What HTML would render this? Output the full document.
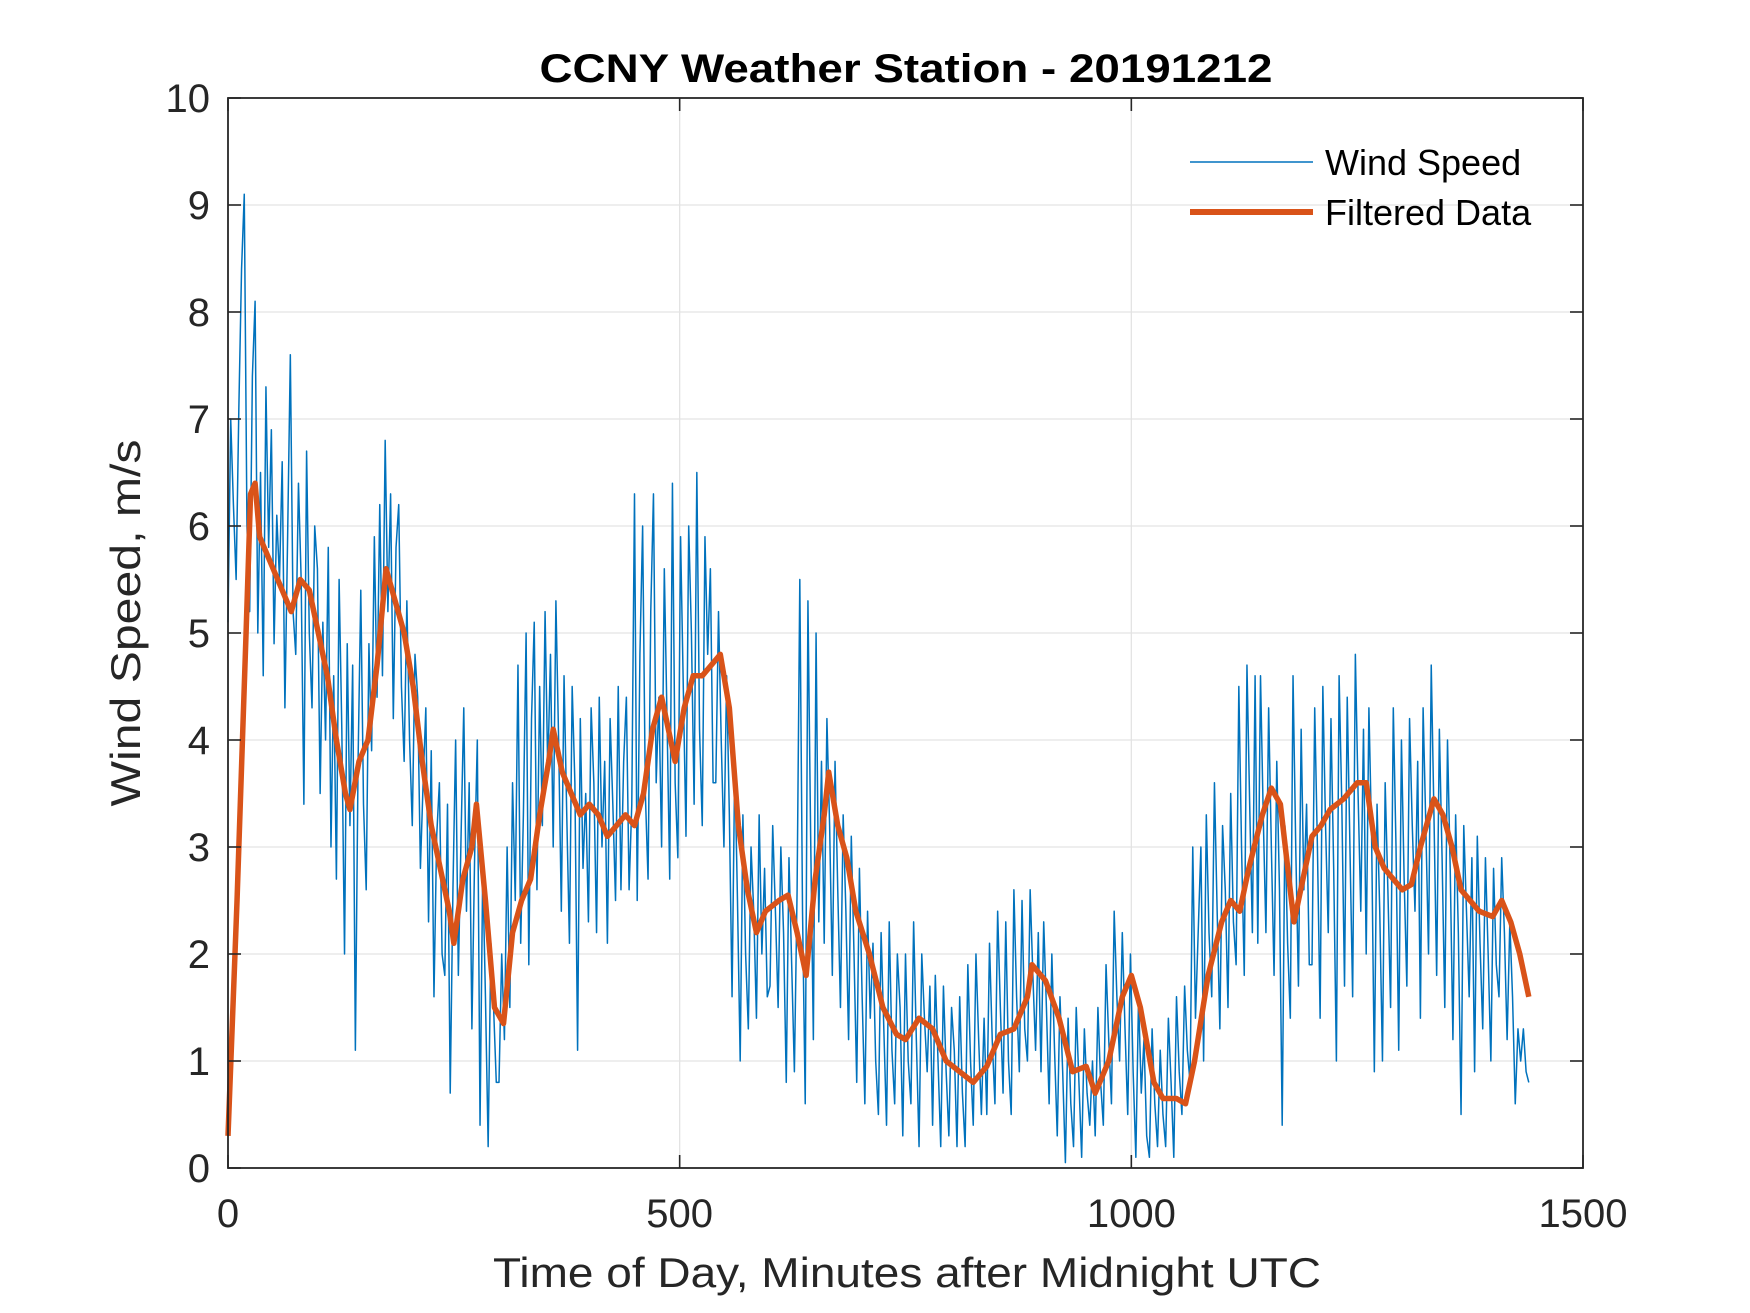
<!DOCTYPE html>
<html><head><meta charset="utf-8"><style>html,body{margin:0;padding:0;background:#fff}svg{display:block}text{font-family:"Liberation Sans",Arial,sans-serif}</style></head>
<body>
<svg id="chart" width="1750" height="1313" viewBox="0 0 1750 1313" xmlns="http://www.w3.org/2000/svg">
<rect width="1750" height="1313" fill="#fff"/>
<g id="grid"></g>
<g id="series"></g>
<g id="axes"></g>
<text x="906" y="82" text-anchor="middle" font-size="40" font-weight="bold" fill="#000" textLength="733" lengthAdjust="spacingAndGlyphs">CCNY Weather Station - 20191212</text>
<text x="907" y="1287" text-anchor="middle" font-size="42" fill="#262626" textLength="828" lengthAdjust="spacingAndGlyphs">Time of Day, Minutes after Midnight UTC</text>
<text transform="translate(140,623) rotate(-90)" text-anchor="middle" font-size="42" fill="#262626" textLength="367" lengthAdjust="spacingAndGlyphs">Wind Speed, m/s</text>
<g>
<line x1="1190" y1="162" x2="1313" y2="162" stroke="#0072BD" stroke-width="1.6"/>
<text x="1325" y="175" font-size="36" fill="#000">Wind Speed</text>
<line x1="1190" y1="212" x2="1313" y2="212" stroke="#D95319" stroke-width="6"/>
<text x="1325" y="225" font-size="36" fill="#000">Filtered Data</text>
</g>
</svg>
<script>
const windStep = 3;
const windSpeed = [
5.1,7.0,6.2,5.5,7.1,8.4,9.1,6.0,5.2,7.4,8.1,5.0,6.5,4.6,7.3,5.8,6.9,4.9,6.1,5.5,
6.6,4.3,5.9,7.6,5.2,4.8,6.4,5.5,3.4,6.7,5.0,4.3,6.0,5.6,3.5,5.1,4.0,5.8,3.0,4.6,
2.7,5.5,4.1,2.0,4.9,3.2,4.7,1.1,3.8,5.4,3.4,2.6,4.9,3.9,5.9,4.4,6.2,4.6,6.8,5.2,
6.3,4.2,5.8,6.2,4.5,3.8,5.3,4.0,3.2,4.8,4.4,2.8,3.6,4.3,2.3,3.9,1.6,3.1,3.6,2.0,
1.8,3.4,0.7,2.6,4.0,1.8,3.1,4.3,2.4,3.6,1.3,2.9,4.0,0.4,2.8,1.6,0.2,2.1,1.5,0.8,
0.8,2.0,1.2,3.0,1.5,3.6,2.5,4.7,2.1,3.3,5.0,1.9,4.2,5.1,2.6,4.5,3.2,5.2,3.7,4.8,
3.0,5.3,4.0,2.4,4.6,3.3,2.1,4.5,3.6,1.1,4.2,2.8,3.5,2.3,4.3,3.6,2.2,4.4,3.0,3.8,
2.1,4.2,3.4,2.5,4.5,2.6,3.8,4.4,2.6,3.4,6.3,2.5,4.8,6.0,3.5,2.7,5.2,6.3,3.6,4.4,
3.0,5.6,4.2,2.7,6.4,3.6,2.9,5.9,4.5,3.1,6.0,5.0,3.4,6.5,4.1,3.2,5.9,4.8,5.6,3.6,
3.6,5.2,4.0,3.0,4.6,3.3,1.6,3.8,2.5,1.0,3.3,2.0,1.3,3.0,2.4,1.4,3.3,2.0,2.8,1.6,
1.7,3.2,2.4,1.5,3.0,2.2,0.8,2.9,1.9,0.9,2.6,5.5,2.4,0.6,5.3,3.1,1.2,5.0,2.3,3.8,
2.1,4.2,3.2,1.8,3.8,2.6,1.5,3.3,2.4,1.2,3.1,2.0,0.8,2.8,1.6,0.6,2.4,1.4,2.1,1.0,
0.5,2.2,1.3,0.4,2.3,1.1,0.6,2.0,1.5,0.3,2.0,1.0,0.6,2.3,1.2,0.2,2.0,1.4,0.9,1.7,
0.4,1.8,1.0,0.2,1.7,0.9,0.3,1.5,1.1,0.2,1.6,0.7,0.2,1.9,1.0,0.4,2.0,1.2,0.5,1.4,
0.5,2.1,1.2,0.6,2.4,1.5,0.7,2.3,1.0,0.5,2.6,1.6,0.9,2.5,1.3,1.0,2.6,1.8,1.1,2.2,
0.9,2.3,1.5,0.6,2.0,1.1,0.3,1.6,0.9,0.05,1.4,0.6,0.2,1.5,0.8,0.1,1.3,0.7,0.4,1.0,
0.3,1.5,0.8,0.4,1.9,1.2,0.6,2.4,1.6,1.0,2.2,1.3,0.5,2.0,0.9,0.1,1.6,0.7,1.2,0.3,
0.1,1.3,0.6,0.2,1.1,0.5,0.2,1.4,0.8,0.1,1.6,0.9,0.5,1.7,1.1,0.8,3.0,1.4,2.2,3.0,
1.0,3.3,2.2,1.6,3.6,2.4,1.3,3.2,2.6,1.5,3.5,2.3,1.9,4.5,3.0,1.8,4.7,3.4,2.2,4.6,
2.1,4.6,3.3,2.2,4.3,3.0,1.8,3.8,2.6,0.4,3.2,2.1,1.4,4.6,3.0,1.7,4.1,2.6,3.4,1.9,
1.9,4.3,3.0,1.4,4.5,3.2,2.2,4.2,2.8,1.0,4.6,3.4,1.7,4.4,3.0,1.6,4.8,3.5,2.4,4.1,
2.0,4.3,3.1,0.9,3.4,2.4,1.0,3.6,2.6,1.5,4.3,3.0,1.1,4.0,2.7,1.7,4.2,3.2,2.4,3.8,
1.4,4.3,3.2,2.0,4.7,3.3,1.8,4.1,2.9,1.5,4.0,2.8,1.2,3.3,2.2,0.5,3.2,2.4,1.6,2.9,
0.9,3.1,2.1,1.3,2.9,2.0,1.0,2.8,1.9,1.6,2.9,2.2,1.2,2.3,1.6,0.6,1.3,1.0,1.3,0.9,
0.8];
const filtX = [0,10,20,25,30,35,40,50,60,70,80,90,100,110,120,130,135,145,155,165,175,185,195,205,215,225,235,245,250,260,270,275,285,295,305,315,325,335,345,355,360,370,380,390,400,410,420,430,440,450,460,470,480,490,495,505,515,525,535,545,555,565,575,585,595,610,620,630,640,650,660,665,675,685,695,710,725,740,750,765,780,795,810,825,840,855,870,885,890,905,920,935,950,960,975,990,1000,1010,1025,1035,1050,1060,1070,1085,1100,1110,1120,1130,1145,1155,1165,1180,1190,1200,1210,1220,1235,1250,1260,1270,1280,1290,1300,1310,1320,1335,1345,1355,1365,1375,1385,1400,1410,1420,1430,1440];
const filtY = [0.3,2.5,5.0,6.3,6.4,5.9,5.8,5.6,5.4,5.2,5.5,5.4,5.0,4.6,4.0,3.5,3.35,3.8,4.0,4.7,5.6,5.3,5.0,4.5,3.8,3.2,2.8,2.4,2.1,2.7,3.0,3.4,2.5,1.5,1.35,2.2,2.5,2.7,3.3,3.8,4.1,3.7,3.5,3.3,3.4,3.3,3.1,3.2,3.3,3.2,3.5,4.1,4.4,4.0,3.8,4.3,4.6,4.6,4.7,4.8,4.3,3.2,2.6,2.2,2.4,2.5,2.55,2.2,1.8,2.7,3.3,3.7,3.2,2.9,2.4,2.0,1.5,1.25,1.2,1.4,1.3,1.0,0.9,0.8,0.95,1.25,1.3,1.6,1.9,1.75,1.4,0.9,0.95,0.7,1.0,1.6,1.8,1.5,0.8,0.65,0.65,0.6,1.0,1.8,2.3,2.5,2.4,2.8,3.3,3.55,3.4,2.3,2.7,3.1,3.2,3.35,3.45,3.6,3.6,3.0,2.8,2.7,2.6,2.65,3.0,3.45,3.3,3.0,2.6,2.5,2.4,2.35,2.5,2.3,2.0,1.6];
const xTicks = [0,500,1000,1500];
const yTicks = [0,1,2,3,4,5,6,7,8,9,10];

const L=228,R=1583,T=98,B=1168;
const xMin=0,xMax=1500,yMin=0,yMax=10;
const sx=v=>L+(v-xMin)/(xMax-xMin)*(R-L);
const sy=v=>B-(v-yMin)/(yMax-yMin)*(B-T);
const NS='http://www.w3.org/2000/svg';
function mk(tag,attrs,parent){const e=document.createElementNS(NS,tag);for(const k in attrs)e.setAttribute(k,attrs[k]);parent.appendChild(e);return e;}
const grid=document.getElementById('grid'),series=document.getElementById('series'),axes=document.getElementById('axes');

xTicks.forEach(t=>{
  if(t>xMin&&t<xMax){const g=mk('line',{x1:sx(t),x2:sx(t),y1:T,y2:B,stroke:'#e3e3e3','stroke-width':1.3},grid);
  
  }
  const a=mk('line',{x1:sx(t),x2:sx(t),y1:B,y2:B-13,stroke:'#262626','stroke-width':1.6},axes);
  
  
  const b=mk('line',{x1:sx(t),x2:sx(t),y1:T,y2:T+13,stroke:'#262626','stroke-width':1.6},axes);
  
  
  const tx=mk('text',{x:sx(t),y:1227,'text-anchor':'middle','font-size':40,fill:'#262626'},axes);
  tx.textContent=t;
  
  
});
yTicks.forEach(t=>{
  if(t>yMin&&t<yMax){const g=mk('line',{x1:L,x2:R,y1:sy(t),y2:sy(t),stroke:'#e3e3e3','stroke-width':1.3},grid);
  
  }
  const a=mk('line',{x1:L,x2:L+13,y1:sy(t),y2:sy(t),stroke:'#262626','stroke-width':1.6},axes);
  
  
  const b=mk('line',{x1:R,x2:R-13,y1:sy(t),y2:sy(t),stroke:'#262626','stroke-width':1.6},axes);
  
  
  const tx=mk('text',{x:210,y:sy(t)+14,'text-anchor':'end','font-size':40,fill:'#262626'},axes);
  tx.textContent=t;
  
  
});
const box=mk('rect',{x:L,y:T,width:R-L,height:B-T,fill:'none',stroke:'#262626','stroke-width':1.8},axes);



const wp=mk('polyline',{points:windSpeed.map((v,i)=>sx(i*windStep)+','+sy(v)).join(' '),fill:'none',stroke:'#0072BD','stroke-width':1.5,'stroke-linejoin':'round'},series);


const fp=mk('polyline',{points:filtX.map((x,i)=>sx(x)+','+sy(filtY[i])).join(' '),fill:'none',stroke:'#D95319','stroke-width':5.5,'stroke-linejoin':'round'},series);


</script>
</body></html>
